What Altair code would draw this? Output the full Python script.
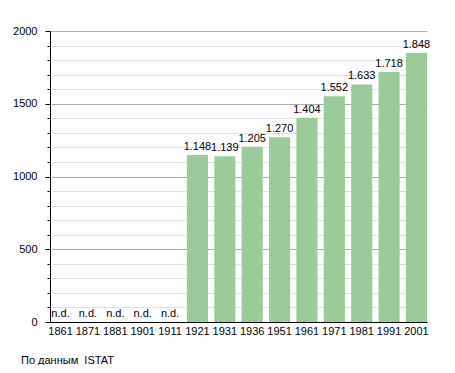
import altair as alt
import pandas as pd

years = ["1861", "1871", "1881", "1901", "1911", "1921", "1931", "1936", "1951", "1961", "1971", "1981", "1991", "2001"]
values = [None, None, None, None, None, 1148, 1139, 1205, 1270, 1404, 1552, 1633, 1718, 1848]

labels = []
for v in values:
    labels.append("n.d." if v is None else f"{v:,}".replace(",", "."))

df = pd.DataFrame({"year": years, "value": [0 if v is None else v for v in values],
                   "label": labels, "missing": [v is None for v in values]})

FONT = "Liberation Sans"
x_scale = alt.Scale(paddingInner=0.23, paddingOuter=0)
x_axis = alt.Axis(labelAngle=0, ticks=False, domainColor="black",
                  labelFontSize=11, labelColor="black", labelPadding=3,
                  labelFont=FONT)
y_scale = alt.Scale(domain=[0, 2000], nice=False)
y_axis = alt.Axis(values=list(range(0, 2001, 100)),
                  labelExpr="datum.value % 500 === 0 ? datum.label : ''",
                  labelOverlap=False,
                  tickSize={"condition": {"test": "datum.value % 500 === 0", "value": 5}, "value": 3},
                  gridColor={"condition": {"test": "datum.value % 500 === 0", "value": "#aaaaaa"}, "value": "#e0e0e0"},
                  tickColor="black", domainColor="black", labelColor="black",
                  labelFontSize=11, labelPadding=8, labelFont=FONT, format="d")

bars = alt.Chart(df).transform_filter("!datum.missing").mark_bar(color="#99cc99").encode(
    x=alt.X("year:N", sort=years, title=None, scale=x_scale, axis=x_axis),
    y=alt.Y("value:Q", scale=y_scale, title=None, axis=y_axis),
)

text = alt.Chart(df).mark_text(baseline="bottom", dy=-3, fontSize=11, font=FONT, color="black").encode(
    x=alt.X("year:N", sort=years, title=None, scale=x_scale, axis=x_axis),
    y=alt.Y("value:Q", scale=y_scale, title=None, axis=y_axis),
    text="label:N",
)

chart = alt.layer(bars, text).properties(
    width=377, height=291,
    title=alt.TitleParams("По данным\u00a0 ISTAT", orient="bottom", anchor="start", frame="group",
                          dx=-29, offset=19, fontSize=11, fontWeight="normal", font=FONT, color="black"),
    autosize=alt.AutoSizeParams(type="none"),
    padding={"left": 42, "top": 23, "right": 18, "bottom": 43},
).configure_view(stroke=None)

chart.save("out.html", embed_options={"renderer": "svg", "actions": False})
